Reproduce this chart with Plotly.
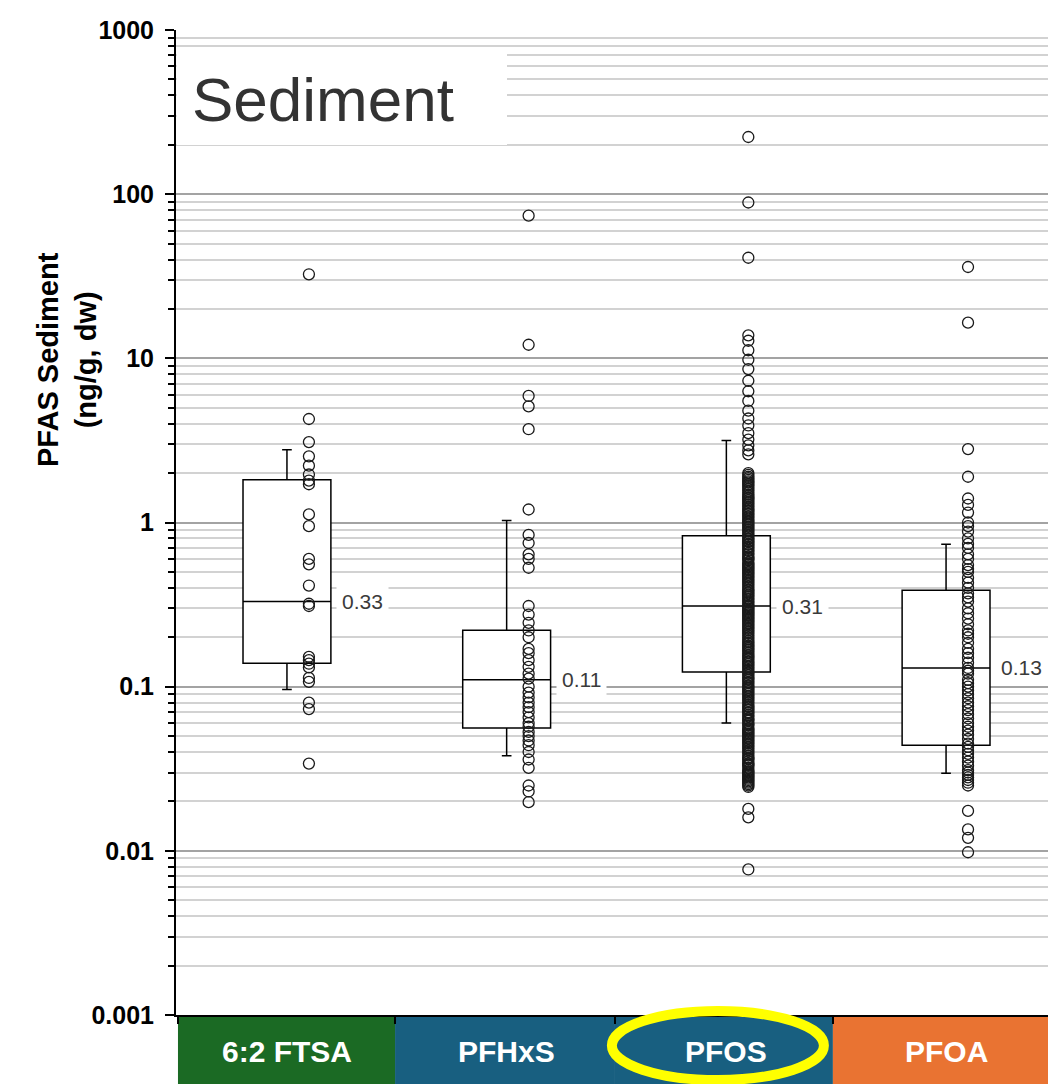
import numpy as np
import plotly.graph_objects as go

# ---------------- data ----------------
categories = ["6:2 FTSA", "PFHxS", "PFOS", "PFOA"]
cat_colors = ["#1b6a24", "#185f80", "#185f80", "#e97332"]

q1 = [0.139, 0.056, 0.123, 0.044]
median = [0.33, 0.11, 0.31, 0.13]
q3 = [1.82, 0.221, 0.83, 0.386]
lower_whisker = [0.096, 0.038, 0.060, 0.0297]
upper_whisker = [2.77, 1.03, 3.16, 0.738]

ftsa_points = [32.5, 4.27, 3.09, 2.53, 2.22, 1.96, 1.80, 1.71, 1.12, 0.95, 0.60, 0.556,
               0.413, 0.32, 0.31, 0.152, 0.145, 0.138, 0.131, 0.113, 0.107, 0.080, 0.073, 0.034]

pfhxs_points = [74, 12.1, 5.9, 5.1, 3.7, 1.2, 0.84, 0.75, 0.64, 0.60, 0.53, 0.31, 0.275, 0.245,
                0.22, 0.20, 0.17, 0.16, 0.145, 0.132, 0.12, 0.112, 0.10, 0.092, 0.086, 0.08,
                0.075, 0.07, 0.065, 0.06, 0.057, 0.053, 0.05, 0.047, 0.044, 0.04, 0.036,
                0.032, 0.025, 0.023, 0.0198]

pfos_points = [223, 89, 41, 13.8, 12.8, 11.2, 9.8, 8.6, 7.3, 6.3, 5.5, 4.8, 4.3, 3.9, 3.5,
               3.2, 2.95, 2.75, 2.6,
               2.0, 1.95, 1.9, 1.86, 1.82, 1.78, 1.75, 1.71, 1.68, 1.64, 1.6, 1.56, 1.52, 1.48,
               1.45, 1.42, 1.4, 1.37, 1.34, 1.31, 1.28, 1.25, 1.22, 1.19, 1.17, 1.14, 1.12,
               1.09, 1.07, 1.04, 1.02, 1.0, 0.98, 0.96, 0.94, 0.92, 0.9, 0.88, 0.86, 0.84,
               0.82, 0.8, 0.79, 0.77, 0.76, 0.74, 0.73, 0.71, 0.7, 0.68, 0.67, 0.65, 0.64,
               0.62, 0.61, 0.6, 0.59, 0.57, 0.56, 0.55, 0.54, 0.53, 0.52, 0.51, 0.5, 0.49,
               0.48, 0.47, 0.46, 0.45, 0.44, 0.43, 0.42, 0.41, 0.4, 0.39, 0.385, 0.375, 0.37,
               0.36, 0.355, 0.345, 0.34, 0.33, 0.325, 0.315, 0.31, 0.305, 0.3, 0.295, 0.29,
               0.285, 0.28, 0.275, 0.27, 0.265, 0.26, 0.255, 0.25, 0.245, 0.24, 0.235, 0.23,
               0.225, 0.22, 0.215, 0.21, 0.205, 0.2, 0.195, 0.19, 0.186, 0.182, 0.178, 0.175,
               0.171, 0.168, 0.164, 0.16, 0.156, 0.153, 0.15, 0.147, 0.143, 0.14, 0.137,
               0.134, 0.131, 0.128, 0.125, 0.122, 0.12, 0.117, 0.114, 0.112, 0.11, 0.107,
               0.105, 0.102, 0.1, 0.098, 0.096, 0.094, 0.092, 0.09, 0.088, 0.086, 0.084,
               0.082, 0.08, 0.078, 0.076, 0.075, 0.073, 0.072, 0.07, 0.069, 0.067, 0.066,
               0.064, 0.063, 0.062, 0.06, 0.059, 0.058, 0.056, 0.055, 0.054, 0.053, 0.052,
               0.051, 0.05, 0.049, 0.048, 0.047, 0.046, 0.045, 0.044, 0.043, 0.042, 0.041,
               0.04, 0.039, 0.038, 0.037, 0.0365, 0.036, 0.035, 0.034, 0.0335, 0.033, 0.032,
               0.031, 0.0305, 0.03, 0.0295, 0.029, 0.0285, 0.028, 0.0275, 0.027, 0.0265,
               0.026, 0.0255, 0.025, 0.0245, 0.018, 0.016, 0.0077]

pfoa_points = [36, 16.5, 2.8, 1.9, 1.4, 1.28, 1.15, 1.0, 0.95, 0.88, 0.8, 0.74, 0.7, 0.64,
               0.6, 0.55, 0.52, 0.5, 0.46, 0.43, 0.4, 0.37, 0.35, 0.33, 0.3, 0.28, 0.26,
               0.24, 0.22, 0.21, 0.2, 0.185, 0.17, 0.16, 0.15, 0.14, 0.13, 0.125, 0.12, 0.11,
               0.105, 0.1, 0.095, 0.09, 0.085, 0.08, 0.076, 0.072, 0.068, 0.064, 0.06, 0.057,
               0.054, 0.051, 0.048, 0.045, 0.043, 0.041, 0.039, 0.037, 0.035, 0.033, 0.031,
               0.03, 0.029, 0.028, 0.027, 0.026, 0.025, 0.0175, 0.0135, 0.012, 0.0098]

all_points = [ftsa_points, pfhxs_points, pfos_points, pfoa_points]
y_tick_vals = [0.001, 0.01, 0.1, 1, 10, 100, 1000]
y_tick_text = ["0.001", "0.01", "0.1", "1", "10", "100", "1000"]

# ---------------- figure ----------------
W, H = 1048, 1084
ML, MR, MT, MB = 176, 0, 30, 69
PW, PH = W - ML - MR, H - MT - MB
X_RANGE = [-0.505, 3.464]


def px_to_paper_y(py):
    return (H - MB - py) / PH


def px_to_paper_x(px):
    return (px - ML) / PW


FONT = "Liberation Sans, Arial, sans-serif"
point_offset = 0.1
fig = go.Figure()

for i, cat in enumerate(categories):
    fig.add_trace(go.Box(
        x=[i], q1=[q1[i]], median=[median[i]], q3=[q3[i]],
        lowerfence=[lower_whisker[i]], upperfence=[upper_whisker[i]],
        width=0.40, whiskerwidth=0.11, fillcolor="white",
        line=dict(color="black", width=1.5), boxpoints=False,
        showlegend=False, name=cat, hoverinfo="skip",
    ))

for i, pts in enumerate(all_points):
    fig.add_trace(go.Scatter(
        x=[i + point_offset] * len(pts), y=pts, mode="markers",
        marker=dict(symbol="circle-open", size=11, color="#1a1a1a",
                    line=dict(width=1.3, color="#1a1a1a")),
        showlegend=False, name=categories[i],
    ))

shapes = []
annotations = []

# category label boxes below the axis
cat_edges = [-0.496, 0.492, 1.493, 2.485, 3.47]
for i, cat in enumerate(categories):
    shapes.append(dict(type="rect", xref="x", yref="paper",
                       x0=cat_edges[i], x1=cat_edges[i + 1], y0=px_to_paper_y(1090), y1=px_to_paper_y(1017),
                       fillcolor=cat_colors[i], line=dict(width=0), layer="below"))
    annotations.append(dict(text=f"<b>{cat}</b>", x=i, xref="x", y=px_to_paper_y(1051), yref="paper",
                            showarrow=False, xanchor="center", yanchor="middle",
                            font=dict(family=FONT, size=30, color="white")))

# yellow highlight ellipse around PFOS
shapes.append(dict(type="circle", xref="x", yref="paper",
                   x0=1.479, x1=2.444, y0=px_to_paper_y(1080), y1=px_to_paper_y(1011),
                   line=dict(color="#ffff00", width=10), layer="above"))

# white box behind the "Sediment" label
shapes.append(dict(type="rect", xref="paper", yref="paper",
                   x0=px_to_paper_x(176.6), x1=px_to_paper_x(507),
                   y0=px_to_paper_y(145), y1=px_to_paper_y(47),
                   fillcolor="white", line=dict(width=0), layer="above"))
annotations.append(dict(text="Sediment", xref="paper", yref="paper",
                        x=px_to_paper_x(190), y=px_to_paper_y(100), xanchor="left", yanchor="middle",
                        showarrow=False, font=dict(family=FONT, size=62, color="#333333")))

# median labels
for i in range(len(categories)):
    annotations.append(dict(text=f"{median[i]:.2f}", xref="x", yref="y",
                            x=i + 0.225, y=np.log10(median[i]), xanchor="left", yanchor="middle",
                            showarrow=False, bgcolor="white", borderpad=5,
                            font=dict(family=FONT, size=21, color="#3a3a3a")))

# y-axis title
annotations.append(dict(text="<b>PFAS Sediment<br>(ng/g, dw)</b>", xref="paper", yref="paper",
                        x=px_to_paper_x(67), y=px_to_paper_y(360), textangle=-90,
                        showarrow=False, xanchor="center", yanchor="middle",
                        font=dict(family=FONT, size=29, color="black")))

fig.update_layout(
    width=W, height=H, autosize=False,
    margin=dict(l=ML, r=MR, t=MT, b=MB, pad=0),
    paper_bgcolor="white", plot_bgcolor="white",
    shapes=shapes, annotations=annotations,
    xaxis=dict(range=X_RANGE, showgrid=False, zeroline=False,
               showline=True, linecolor="black", linewidth=2,
               tickmode="array", tickvals=cat_edges[:4], ticks="outside",
               ticklen=7, tickwidth=2, tickcolor="black", showticklabels=False),
    yaxis=dict(type="log", range=[-3, 3], dtick=1,
               tickmode="array", tickvals=y_tick_vals, ticktext=y_tick_text,
               showline=True, linecolor="black", linewidth=2,
               ticks="outside", ticklen=9, tickwidth=2, tickcolor="black",
               ticklabelstandoff=6,
               tickfont=dict(family=FONT, size=25, color="black", weight="bold"),
               showgrid=True, gridcolor="#a3a3a3", gridwidth=1.5, zeroline=False,
               minor=dict(dtick="D1", ticks="outside", ticklen=6, tickwidth=2, tickcolor="black",
                          showgrid=True, gridcolor="#d2d2d2", gridwidth=1.5)),
)

fig.write_html("out.html", config={"displayModeBar": False},
               post_script="document.body.style.margin='0';")
